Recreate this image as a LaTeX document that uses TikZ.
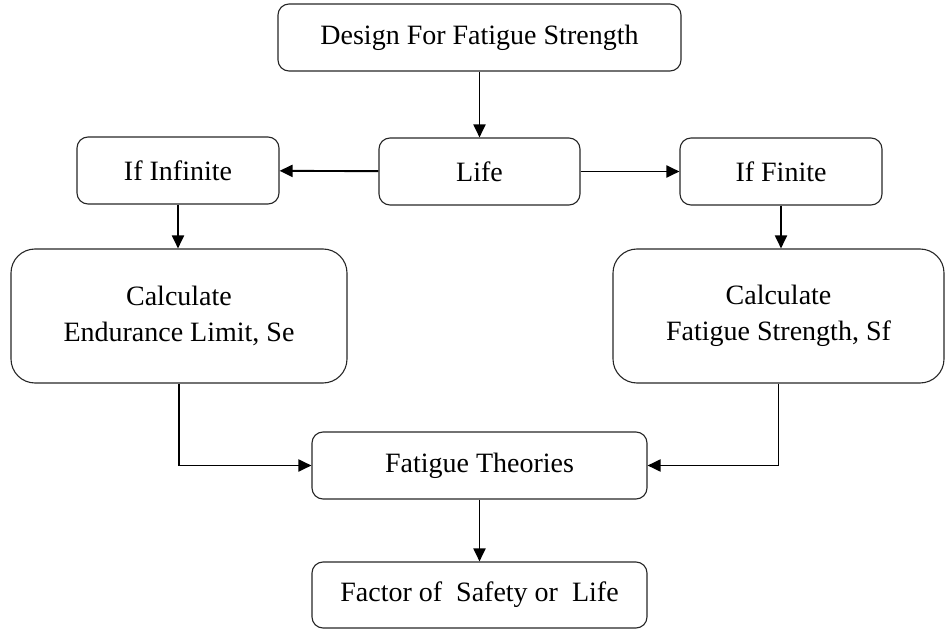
\documentclass[tikz,border=0pt]{standalone}
\usepackage{fontspec}
\setmainfont{Liberation Serif}
\usetikzlibrary{arrows.meta}
\begin{document}
\begin{tikzpicture}[x=1pt,y=-1pt,
  box/.style={draw=black!85,line width=1.1pt,rounded corners=11pt,align=center,
    font=\fontsize{28}{36}\selectfont,inner sep=0pt},
  bigbox/.style={box,rounded corners=24pt},
  conn/.style={line width=1.9pt,-{Triangle[length=13pt,width=12pt]}}]
\path[use as bounding box] (0,0) rectangle (946,631);
\node[box,minimum width=403pt,minimum height=67pt] (top) at (479.5,37.5) {Design For Fatigue Strength};
\node[box,minimum width=201pt,minimum height=67pt] (life) at (479.5,171.5) {Life};
\node[box,minimum width=202pt,minimum height=67pt] (inf) at (178,170.5) {If Infinite};
\node[box,minimum width=202pt,minimum height=67pt] (fin) at (781,171.5) {If Finite};
\node[bigbox,minimum width=336pt,minimum height=134pt] (end) at (179,316) {Calculate\\Endurance Limit, Se};
\node[bigbox,minimum width=331pt,minimum height=134pt] (sf) at (778.5,316) {Calculate\\Fatigue Strength, Sf};
\node[box,minimum width=335pt,minimum height=67pt] (theo) at (479.5,465.5) {Fatigue Theories};
\node[box,minimum width=335pt,minimum height=66pt] (fac) at (479.5,595) {Factor of\ \ Safety or\ \ Life};
\draw[conn] (top) -- (life);
\draw[conn] (life) -- (inf);
\draw[conn] (life) -- (fin);
\draw[conn] (inf.south) -- (inf.south |- end.north);
\draw[conn] (fin.south) -- (fin.south |- sf.north);
\draw[conn] (end.south) |- (theo.west);
\draw[conn] (sf.south) |- (theo.east);
\draw[conn] (theo) -- (fac);
\end{tikzpicture}
\end{document}
